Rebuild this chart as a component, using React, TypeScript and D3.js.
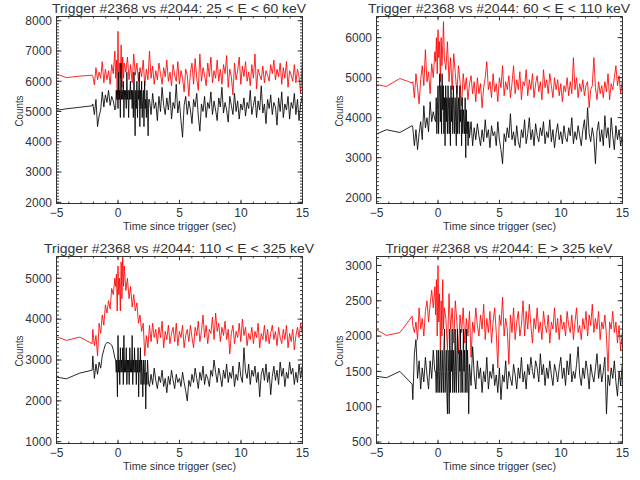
import React from "react";
import * as d3 from "d3";

// ---- time grids (bin starts, seconds since trigger) ----
const PRE_T = [-5, -4.2, -3.1, -2.1];
const A_T0 = -2.048;
const DT = 0.128;
const RD_T0 = -0.192;
const RD_DT = 0.064;
const RB_T0 = 0.64;
const BD_T0 = -0.192;
const BD_DT = 0.048;
const BB_T0 = 2.56;

const X_TICKS = [-5, 0, 5, 10, 15];

const TITLES = [
  "Trigger #2368 vs #2044: 25 < E < 60 keV",
  "Trigger #2368 vs #2044: 60 < E < 110 keV",
  "Trigger #2368 vs #2044: 110 < E < 325 keV",
  "Trigger #2368 vs #2044: E > 325 keV",
];
const TITLE_WIDTHS = [254, 262, 270, 227];

const Y_DOMAINS: [number, number][] = [
  [1960, 8140],
  [1855, 6530],
  [956, 5533],
  [479, 3127],
];
const Y_TICKS = [
  [2000, 3000, 4000, 5000, 6000, 7000, 8000],
  [2000, 3000, 4000, 5000, 6000],
  [1000, 2000, 3000, 4000, 5000],
  [500, 1000, 1500, 2000, 2500, 3000],
];
const Y_MINOR = [100, 100, 100, 100];

// ---- panel 1: 25-60 keV ----
const red1Pre = [6240, 6120, 6170, 6200];
const black1Pre = [5040, 5090, 5140, 5190];
const red1A = [6180, 5880, 6450, 6050, 6300, 6100, 6650, 5950, 6400, 6050, 6350, 5900, 6550, 6250, 7000];
const red1Dense = [6100, 6700, 5600, 7650, 5400, 6600, 6100, 7200, 5800, 6800, 6100, 6600];
const red1B = [
  6300, 6800, 6050, 6550, 5950, 6900, 6200, 6600, 6000, 6450,
  6150, 6700, 5850, 6400, 6050, 7000, 6100, 6500, 5900, 6350,
  6050, 6600, 6250, 5900, 6450, 6150, 6700, 6000, 6300, 5850,
  6550, 6200, 6000, 6650, 5900, 6350, 6100, 5650, 6400, 6200,
  5500, 6300, 6600, 5900, 6750, 6100, 5700, 6900, 6000, 6450,
  6200, 5850, 6600, 6150, 6800, 5950, 6350, 6100, 6700, 6000,
  6400, 5900, 6550, 6250, 6850, 5800, 6400, 6150, 5550, 6600,
  6050, 6350, 6800, 5900, 6500, 6150, 6650, 6000, 6300, 5850,
  6550, 6100, 6900, 5750, 6400, 6200, 6050, 6500, 5950, 6350,
  6200, 6000, 6550, 6250, 6700, 6050, 6400, 6150, 6600, 5900,
  6450, 6100, 6650, 5800, 6350, 6200, 6000, 6550, 5950, 6400,
  6150, 5600, 6650,
];
const black1A = [5250, 4900, 5400, 4500, 4850, 5050, 5650, 5150, 5550, 5300, 5700, 5200, 5500, 5350, 5050];
const black1Dense = [
  5100, 5700, 5400, 5700, 5100, 6300, 5400, 5700, 4800, 6600,
  5400, 5700, 5400, 6000, 4800, 5700, 5400, 5700, 5100, 6300,
  5400, 5700, 4800, 5700, 5400, 6000, 5400, 5700, 5100, 5700,
  4800, 6300, 5400, 4200, 5700, 5100, 6000, 4800, 5700, 5400,
  6300, 4500, 5700, 5100, 6000, 4800, 5400, 5700, 4500, 6000,
  5100, 5400, 4800, 5700, 5100, 4200, 5400,
];
const black1B = [
  5400, 4900, 5600, 5100, 5300, 4700, 5500, 5000, 5800, 5200,
  4900, 5450, 5050, 5650, 4750, 5300, 5100, 5900, 4950, 5350,
  4700, 4150, 5200, 5500, 4900, 5350, 5050, 4600, 5400, 5150,
  5600, 4850, 4350, 5250, 5000, 5500, 4800, 5300, 5100, 5650,
  4900, 5350, 5050, 4700, 5450, 5150, 5800, 4950, 5300, 5050,
  4650, 5500, 5200, 4900, 5600, 5000, 5350, 4750, 5250, 5050,
  5450, 4850, 5300, 5100, 5700, 4900, 5200, 5500, 4800, 5350,
  5050, 5850, 4950, 5250, 4600, 5400, 5100, 5550, 4900, 5300,
  5150, 4550, 5450, 5000, 5650, 4800, 5250, 5050, 5500, 4750,
  5300, 5100, 5600, 4900, 5400, 4700, 5250, 5500,
];

// ---- panel 2: 60-110 keV ----
const red2Pre = [4830, 4780, 4980, 4870];
const black2Pre = [3590, 3700, 3630, 3800];
const red2A = [4900, 4500, 5100, 4750, 4350, 4950, 5300, 4800, 5700, 4900, 5150, 4600, 5350, 5000, 5650];
const red2Dense = [5400, 6000, 5100, 6200, 5500, 5900, 4900, 6000, 5300, 5800, 6400, 5500];
const red2B = [
  5200, 5900, 4900, 5500, 4700, 5600, 5100, 4600, 5300, 4900,
  4300, 5100, 4700, 5000, 4450, 4850, 5050, 4600, 4900, 4400,
  5000, 4600, 4850, 4250, 4750, 5000, 5400, 4700, 4900, 4500,
  5100, 4650, 4850, 4400, 5000, 4750, 5300, 4550, 4900, 4700,
  5050, 4500, 4850, 5300, 4600, 4950, 4700, 5150, 4450, 4900,
  4800, 5200, 4550, 4950, 4700, 5100, 4500, 4850, 5050, 4650,
  4900, 4450, 5200, 4750, 4950, 4600, 5100, 4800, 4500, 5000,
  4700, 4950, 4550, 4850, 4400, 4800, 4650, 5000, 4550, 4900,
  4600, 5500, 4700, 5000, 4500, 4850, 4650, 4950, 4550, 4800,
  4900, 4250, 4700, 4800, 5500, 4750, 4450, 4900, 4600, 4800,
  4500, 4900, 4650, 5100, 4450, 4850, 4700, 5000, 5300, 4800,
  5050, 4600, 4900,
];
const black2A = [3750, 3300, 3700, 3200, 3600, 3900, 3450, 4300, 3750, 4000, 3650, 4400, 3900, 4150, 3950];
const black2Dense = [
  3900, 4500, 3600, 4200, 4800, 3600, 4500, 5100, 3900, 4800,
  3600, 5100, 4200, 4800, 3600, 4500, 3300, 4800, 3900, 4500,
  3600, 4800, 4200, 3600, 4500, 3300, 4800, 3900, 4500, 3600,
  4800, 4200, 3600, 4500, 3900, 3300, 4800, 3600, 4200, 4500,
  3600, 4800, 3900, 4200, 3300, 4500, 3600, 4200, 3900, 3600,
  4500, 3000, 4200, 3600, 3900, 3300, 3900,
];
const black2B = [
  3500, 3900, 3300, 3750, 3450, 3850, 3550, 3300, 3700, 3400,
  3950, 3500, 3700, 3250, 3800, 3550, 3650, 3300, 3900, 3450,
  3200, 2850, 3600, 3400, 3750, 3500, 4100, 3450, 3650, 3300,
  3800, 3400, 3250, 3700, 3500, 3950, 3350, 3600, 4000, 3450,
  3700, 3300, 3850, 3550, 3400, 3750, 3550, 3900, 3350, 3650,
  3500, 3950, 3400, 3700, 3250, 3600, 3850, 3450, 3650, 3350,
  3800, 3500, 3400, 3750, 3550, 4000, 3350, 3650, 3450, 3800,
  3550, 3300, 3700, 3950, 3450, 4250, 3600, 3400, 3750, 3500,
  2850, 3650, 3900, 3400, 3700, 3300, 4050, 3500, 3750, 3250,
  4000, 3550, 3200, 3800, 3450, 3700, 3300, 3550,
];

// ---- panel 3: 110-325 keV ----
const red3Pre = [3570, 3480, 3560, 3400];
const black3Pre = [2580, 2540, 2680, 2750];
const red3A = [3750, 3350, 3600, 3100, 3900, 3650, 4100, 3850, 4350, 4150, 4450, 4250, 4750, 4600, 5000];
const red3Dense = [4800, 5100, 4200, 5300, 4600, 5000, 4200, 5400, 4500, 5550, 4800, 5300];
const red3B = [
  4700, 5000, 4500, 4800, 4300, 4600, 4200, 4400, 3900, 4100,
  3700, 3900, 3100, 3600, 3300, 3850, 3450, 3900, 3550, 3750,
  3400, 3800, 3550, 3950, 3300, 3700, 3500, 3850, 3400, 3650,
  3800, 3450, 3900, 3350, 3700, 3550, 3850, 3300, 3600, 3750,
  3450, 3850, 3550, 3300, 3800, 3600, 3950, 3450, 3700, 4100,
  3550, 3850, 3400, 3750, 3650, 4050, 3500, 4150, 3700, 3900,
  3450, 3800, 3600, 3950, 3500, 3750, 3150, 3650, 3850, 3400,
  3700, 3550, 3900, 3450, 4000, 3600, 3800, 3350, 3650, 3500,
  3800, 3400, 3700, 3550, 3900, 3300, 3650, 3500, 3850, 3450,
  3750, 3400, 3650, 3850, 3500, 3700, 3350, 3800, 3550, 3400,
  3750, 3500, 3850, 3300, 3650, 3450, 3750, 3250, 3600, 3800,
  3550, 3900, 3650,
];
const black3A = [3100, 2550, 2900, 2650, 2950, 2800, 3100, 3250, 3380, 3430, 3420, 3400, 3360, 3250, 3050];
const black3Dense = [
  3000, 2700, 3000, 2100, 3600, 2700, 3000, 2400, 3300, 2700,
  3000, 2700, 3300, 2400, 3600, 2700, 3000, 2700, 3300, 2400,
  3000, 2700, 3000, 2400, 3300, 2700, 3000, 2700, 3600, 2400,
  3000, 2700, 3300, 2700, 3000, 2400, 3000, 2700, 3300, 2100,
  3000, 2700, 3300, 2400, 3000, 2700, 2100, 3000, 2400, 2700,
  3000, 1800, 2700, 2400, 3000, 2700, 2400,
];
const black3B = [
  2350, 2650, 2400, 2800, 2500, 2300, 2600, 2450, 2750, 2350,
  2550, 2200, 2600, 2400, 2750, 2500, 2300, 2650, 2450, 2550,
  2350, 2700, 2450, 2250, 2000, 2500, 2350, 2650, 2450, 2800,
  2550, 2300, 2700, 2500, 2850, 2400, 2650, 2550, 2350, 2750,
  2600, 3000, 2700, 2450, 2800, 2600, 2350, 2750, 2550, 2900,
  2450, 2700, 2550, 2850, 2350, 2650, 2500, 2950, 2600, 2450,
  3300, 2700, 2550, 2900, 2400, 2750, 2600, 2850, 2450, 2700,
  2100, 2650, 2800, 2500, 2900, 2450, 2700, 2150, 2600, 2850,
  2500, 2750, 2400, 2950, 2600, 2800, 2350, 2700, 2550, 2950,
  2650, 2800, 2400, 2700, 2450, 2900, 2550, 2850,
];

// ---- panel 4: E > 325 keV ----
const red4Pre = [2090, 2010, 2050, 2280];
const black4Pre = [1430, 1410, 1500, 1320];
const red4A = [2150, 2050, 2200, 1950, 2400, 2100, 2250, 2000, 2350, 2500, 2200, 2450, 2650, 2400, 2700];
const red4Dense = [2300, 2800, 2000, 3000, 2200, 2600, 1800, 2500, 2000, 2800, 2100, 2400];
const red4B = [
  2250, 1800, 2600, 2100, 2400, 1900, 2500, 2200, 1750, 2300,
  2050, 2400, 1900, 2250, 2000, 2350, 1700, 2200, 2050, 2400,
  2150, 2000, 2300, 2100, 2450, 1950, 2250, 2050, 2350, 1900,
  2200, 2400, 2050, 1550, 2300, 2150, 2550, 2000, 2250, 2100,
  1600, 2300, 2050, 2400, 1950, 2200, 2350, 2000, 2150, 2500,
  2000, 2350, 2100, 2450, 2150, 1900, 2250, 2100, 2400, 2050,
  2200, 1950, 2350, 2150, 2050, 2300, 1900, 2200, 2100, 2400,
  2050, 2250, 1950, 2300, 2100, 2200, 2000, 2350, 2150, 2050,
  2300, 1950, 2200, 2400, 2050, 2150, 1950, 2250, 2100, 2350,
  2000, 2300, 2150, 2450, 2050, 2250, 2100, 2350, 1950, 2200,
  2100, 2300, 2000, 1500, 2200, 2100, 2350, 2050, 2200, 1900,
  2150, 1800, 2050,
];
const black4A = [1100, 1750, 1950, 1400, 1650, 1250, 1550, 1350, 1700, 1450, 1250, 1650, 1400, 1800, 1500];
const black4Dense = [
  1500, 1200, 1800, 1500, 1200, 1800, 1500, 1200, 1800, 1500,
  1200, 1800, 1500, 1200, 1800, 2100, 1200, 1500, 1800, 1200,
  900, 1800, 1500, 900, 2100, 1200, 1800, 1500, 2100, 1200,
  1800, 1500, 1200, 2100, 1500, 1200, 1800, 2100, 1500, 1200,
  1800, 1500, 2100, 1200, 1800, 1500, 1200, 2100, 1500, 1800,
  1200, 1500, 2100, 1200, 1800, 1500, 900,
];
const black4B = [
  1600, 1300, 1850, 1450, 1250, 1650, 1400, 1550, 1200, 1500,
  1350, 1700, 1250, 1500, 1400, 1600, 1300, 1450, 1200, 1550,
  1100, 1450, 1350, 1650, 1250, 1500, 1400, 1300, 1600, 1450,
  1250, 1550, 1400, 1700, 1350, 1500, 1250, 1600, 1450, 1700,
  1500, 1400, 1650, 1550, 1350, 1750, 1450, 1600, 1300, 1550,
  1400, 1650, 1450, 1300, 1600, 1500, 1350, 1550, 1700, 1400,
  1550, 1300, 1650, 1450, 1750, 1350, 1500, 1400, 1600, 1850,
  1450, 1300, 1550, 1400, 1650, 1500, 1250, 1600, 1450, 1350,
  1550, 1750, 1400, 1600, 1350, 1500, 1700, 900, 1450, 1300,
  1550, 1400, 1650, 1350, 1150, 1500, 1300, 1600,
];

type Pt = [number, number];
const seg = (t0: number, dt: number, vals: number[]): Pt[] => vals.map((v, i) => [t0 + i * dt, v]);
const pre = (vals: number[]): Pt[] => vals.map((v, i) => [PRE_T[i], v]);

const RED = [
  [red1Pre, red1A, red1Dense, red1B],
  [red2Pre, red2A, red2Dense, red2B],
  [red3Pre, red3A, red3Dense, red3B],
  [red4Pre, red4A, red4Dense, red4B],
];
const BLACK = [
  [black1Pre, black1A, black1Dense, black1B],
  [black2Pre, black2A, black2Dense, black2B],
  [black3Pre, black3A, black3Dense, black3B],
  [black4Pre, black4A, black4Dense, black4B],
];

const L = 56.5, R = 302.5, T = 16.5, B = 203.5;
const FONT = "'Liberation Sans', Arial, Helvetica, sans-serif";
const TXT = "#333";

function Panel({ idx }: { idx: number }) {
  const ox = (idx % 2) * 320;
  const oy = Math.floor(idx / 2) * 240;
  const x = d3.scaleLinear().domain([-5, 15]).range([L, R]);
  const y = d3.scaleLinear().domain(Y_DOMAINS[idx]).range([B, T]);
  const line = d3.line<Pt>().x((d) => x(d[0])).y((d) => y(d[1]));
  const [rp, ra, rd, rb] = RED[idx];
  const [bp, ba, bd, bb] = BLACK[idx];
  const redPts = [...pre(rp), ...seg(A_T0, DT, ra), ...seg(RD_T0, RD_DT, rd), ...seg(RB_T0, DT, rb)];
  const blackPts = [...pre(bp), ...seg(A_T0, DT, ba), ...seg(BD_T0, BD_DT, bd), ...seg(BB_T0, DT, bb)];
  const yMinor = d3.range(Math.ceil(Y_DOMAINS[idx][0] / Y_MINOR[idx]) * Y_MINOR[idx], Y_DOMAINS[idx][1], Y_MINOR[idx]);
  const xMinor = d3.range(-5, 15.01, 1);
  const clipId = `clip${idx}`;
  const yMajLen = 0.02 * (R - L);
  const xMajLen = 0.02 * (B - T);
  const ax = "#333";
  return (
    <g transform={`translate(${ox},${oy})`}>
      <defs>
        <clipPath id={clipId}>
          <rect x={L} y={T} width={R - L} height={B - T} />
        </clipPath>
      </defs>
      <g clipPath={`url(#${clipId})`}>
        <path d={line(redPts) || ""} fill="none" stroke="#ff0000" strokeWidth={0.85} />
        <path d={line(blackPts) || ""} fill="none" stroke="#000" strokeWidth={0.85} />
      </g>
      <rect x={L} y={T} width={R - L} height={B - T} fill="none" stroke={ax} strokeWidth={1} />
      {yMinor.map((v) => (
        <g key={`ym${v}`}>
          <line x1={L} x2={L + yMajLen / 2} y1={y(v)} y2={y(v)} stroke={ax} />
          <line x1={R} x2={R - yMajLen / 2} y1={y(v)} y2={y(v)} stroke={ax} />
        </g>
      ))}
      {Y_TICKS[idx].map((v) => (
        <g key={`yM${v}`}>
          <line x1={L} x2={L + yMajLen} y1={y(v)} y2={y(v)} stroke={ax} />
          <line x1={R} x2={R - yMajLen} y1={y(v)} y2={y(v)} stroke={ax} />
          <text x={52} y={y(v)} dy="0.36em" textAnchor="end" fontSize={12} fontFamily={FONT} fill={TXT}>
            {v}
          </text>
        </g>
      ))}
      {xMinor.map((v) => (
        <g key={`xm${v}`}>
          <line x1={x(v)} x2={x(v)} y1={B} y2={B - xMajLen / 2} stroke={ax} />
          <line x1={x(v)} x2={x(v)} y1={T} y2={T + xMajLen / 2} stroke={ax} />
        </g>
      ))}
      {X_TICKS.map((v) => (
        <g key={`xM${v}`}>
          <line x1={x(v)} x2={x(v)} y1={B} y2={B - xMajLen} stroke={ax} />
          <line x1={x(v)} x2={x(v)} y1={T} y2={T + xMajLen} stroke={ax} />
          <text x={x(v)} y={217} textAnchor="middle" fontSize={12} fontFamily={FONT} fill={TXT}>
            {v < 0 ? `\u2212${-v}` : v}
          </text>
        </g>
      ))}
      <text x={179} y={12.5} textAnchor="middle" fontSize={12.5} fontFamily={FONT} fill={TXT}
        textLength={TITLE_WIDTHS[idx]} lengthAdjust="spacingAndGlyphs">
        {TITLES[idx]}
      </text>
      <text x={179.5} y={230} textAnchor="middle" fontSize={11.5} fontFamily={FONT} fill={TXT}
        textLength={113} lengthAdjust="spacingAndGlyphs">
        Time since trigger (sec)
      </text>
      <text transform={`translate(23,111) rotate(-90)`} textAnchor="middle" fontSize={11.5} fontFamily={FONT} fill={TXT}
        textLength={31} lengthAdjust="spacingAndGlyphs">
        Counts
      </text>
    </g>
  );
}

export default function App() {
  return (
    <svg width={640} height={480} style={{ position: "absolute", left: 0, top: 0, background: "#fff" }}>
      <rect width={640} height={480} fill="#fff" />
      {[0, 1, 2, 3].map((i) => (
        <Panel key={i} idx={i} />
      ))}
    </svg>
  );
}
